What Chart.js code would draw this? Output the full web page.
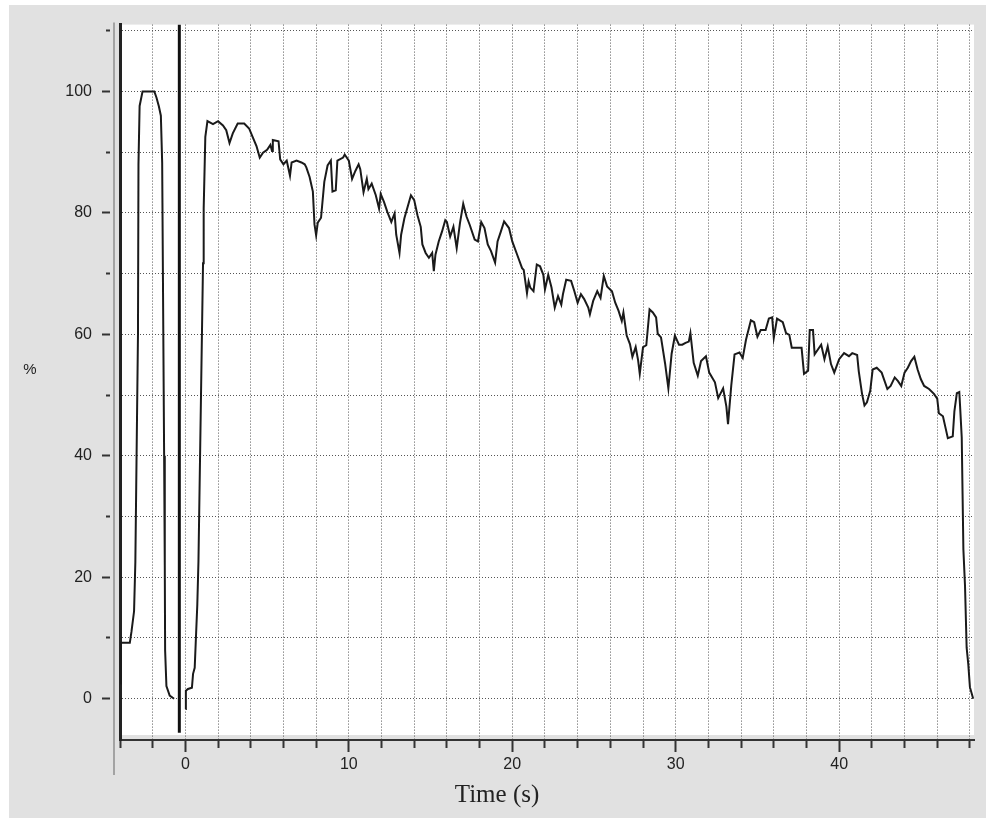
<!DOCTYPE html>
<html>
<head>
<meta charset="utf-8">
<script src="https://cdn.jsdelivr.net/npm/chart.js@4.4.1/dist/chart.umd.min.js"></script>
<style>
  html, body { margin: 0; padding: 0; background: #fff; }
  #wrap { position: absolute; left: 9px; top: 5px; width: 977px; height: 813px; }
</style>
</head>
<body>
<div id="wrap"><canvas id="levelChart" width="977" height="813"></canvas></div>
<script>
// recording: time (s) and level (%), null splits the two runs
const timeS = [
  -3.97, -3.95, -3.4, -3.3, -3.14, -3.06, -2.9, -2.87, -2.8, -2.62, -1.9, -1.77, -1.62, -1.5, -1.42, -1.3, -1.26, -1.24, -1.16, -0.96, -0.69,
  -0.3,
  0.02, 0.03, 0.16, 0.4, 0.47, 0.57, 0.63, 0.73, 0.8, 1.08, 1.12, 1.22, 1.35,
  1.69, 2.0, 2.3, 2.5, 2.7, 2.9, 3.2, 3.6, 3.9, 4.1, 4.35, 4.55, 4.75, 5.0, 5.2, 5.3, 5.35, 5.7, 5.8, 6.0,
  6.2, 6.4, 6.5, 6.8, 7.1, 7.3, 7.4, 7.6, 7.8, 7.9, 8.0, 8.1, 8.3, 8.5, 8.7, 8.9, 9.0, 9.2, 9.3, 9.65, 9.75, 10.0,
  10.2, 10.4, 10.6, 10.7, 10.9, 11.1, 11.2, 11.4, 11.65, 11.85, 11.95, 12.15, 12.35, 12.6, 12.8, 12.9, 13.1, 13.2, 13.4, 13.6,
  13.8, 14.0, 14.2, 14.4, 14.5, 14.7, 14.9, 15.1, 15.2, 15.3, 15.5, 15.7, 15.9, 16.0, 16.2, 16.4, 16.6, 16.8, 17.0, 17.2,
  17.4, 17.7, 17.9, 18.1, 18.3, 18.5, 18.7, 18.95, 19.1, 19.3, 19.5, 19.8, 20.0,
  20.3, 20.6, 20.7, 20.9, 21.0, 21.1, 21.3, 21.5, 21.7, 21.9, 22.0, 22.2, 22.4, 22.6, 22.8, 23.0, 23.1, 23.3, 23.6, 23.8,
  24.0, 24.2, 24.4, 24.65, 24.75, 24.95, 25.2, 25.4, 25.6, 25.8, 26.1, 26.3, 26.5, 26.7, 26.8, 27.0, 27.2, 27.35, 27.55, 27.7,
  27.8, 28.0, 28.2, 28.4, 28.6, 28.8, 28.9, 29.1, 29.35, 29.55, 29.75, 29.95, 30.2,
  30.4, 30.6, 30.8, 30.9, 31.1, 31.35, 31.55, 31.85, 32.05, 32.4, 32.6, 32.9, 33.1, 33.2, 33.4, 33.6, 33.9, 34.1, 34.3, 34.6,
  34.8, 35.0, 35.2, 35.5, 35.7, 35.9, 36.0, 36.2, 36.55, 36.75, 36.95, 37.1, 37.7, 37.85, 38.1, 38.2, 38.4, 38.5, 38.7, 38.9,
  39.1, 39.3, 39.5, 39.7, 40.0,
  40.3, 40.6, 40.8, 41.1, 41.2, 41.4, 41.55, 41.7, 41.9, 42.05, 42.3, 42.6, 42.95, 43.15, 43.4, 43.6, 43.8, 44.0, 44.2, 44.4,
  44.6, 44.8, 45.0, 45.2, 45.5, 45.8, 46.0,
  46.1, 46.35, 46.55, 46.65, 46.95, 47.05, 47.2, 47.35, 47.4, 47.5, 47.55, 47.6, 47.7, 47.8, 47.9, 48.0, 48.2
];
const percent = [
  2.5, 9.2, 9.2, 11, 14.4, 22.6, 60, 88, 97.6, 100, 100, 99, 97.5, 96, 88.3, 40, 22, 8, 2.1, 0.5, 0,
  null,
  -1.7, 1.3, 1.6, 1.8, 4.1, 5.1, 9, 15.5, 22.6, 71.7, 80.7, 92.5, 95.1,
  94.6, 95.1, 94.4, 93.6, 91.5, 93.1, 94.7, 94.7, 93.9, 92.6, 91, 89.1, 89.9, 90.4, 91.2, 90.2, 92, 91.8, 88.8, 88,
  88.6, 86.1, 88.3, 88.6, 88.3, 88, 87.5, 85.9, 83.5, 78.1, 76.3, 78.4, 79.2, 85.1, 87.8, 88.6, 83.5, 83.7, 88.6, 89.1, 89.6, 88.6,
  85.6, 86.9, 88, 87.2, 83.4, 85.6, 83.9, 84.8, 82.9, 80.7, 83.1, 81.8, 80.2, 78.5, 79.9, 76.4, 73.4, 76.4, 79.1, 81,
  82.9, 82.1, 79.6, 77.7, 74.8, 73.4, 72.6, 73.4, 70.4, 73.1, 75.3, 76.9, 78.8, 78.5, 76.1, 77.7, 74.2, 78.3, 81.5, 79.4,
  78, 75.6, 75.3, 78.5, 77.5, 74.8, 73.7, 71.8, 75.3, 76.9, 78.6, 77.5, 75.3,
  73.1, 70.9, 70.6, 66.8, 68.7, 67.7, 67.1, 71.5, 71.2, 69.8, 67.4, 69.8, 67.7, 64.4, 66.3, 64.9, 66.6, 69, 68.8, 67.1,
  65.2, 66.6, 65.8, 64.4, 63.3, 65.5, 67.1, 66, 69.6, 67.9, 67.1, 65.2, 63.9, 62.2, 63.6, 59.8, 58.4, 56.3, 57.9, 55.7,
  53.5, 57.9, 58.2, 64.1, 63.6, 62.8, 60.1, 59.5, 55.2, 51.1, 56.8, 59.8, 58.3,
  58.3, 58.6, 58.8, 60.2, 55.3, 53.2, 55.6, 56.4, 53.7, 52.1, 49.5, 51.1, 48.1, 45.2, 51.6, 56.7, 57, 56.1, 59.1, 62.3,
  62, 59.6, 60.7, 60.7, 62.6, 62.8, 59.4, 62.6, 62, 60.2, 59.9, 57.8, 57.8, 53.5, 54, 60.7, 60.7, 56.7, 57.5, 58.3,
  55.9, 58, 55.1, 53.7, 55.9,
  56.9, 56.4, 56.9, 56.6, 53.9, 50.2, 48.3, 48.8, 50.7, 54.2, 54.5, 53.7, 51, 51.5, 52.9, 52.3, 51.5, 53.7, 54.5, 55.6,
  56.3, 54.2, 52.6, 51.5, 51, 50.2, 49.4,
  47, 46.5, 44.1, 42.9, 43.2, 47.3, 50.3, 50.5, 48.1, 43, 33.8, 24.6, 18.6, 8.4, 5.7, 1.9, 0
];

// vertical marker between the two runs
const markerTime = -0.37;
const markerRange = [-5.6, 111];

const xTicks = [-4, -2, 0, 2, 4, 6, 8, 10, 12, 14, 16, 18, 20, 22, 24, 26, 28, 30, 32, 34, 36, 38, 40, 42, 44, 46, 48];
const xLabels = [0, 10, 20, 30, 40];
const yTicks = [0, 10, 20, 30, 40, 50, 60, 70, 80, 90, 100, 110];
const yLabels = [0, 20, 40, 60, 80, 100];

const tickFont = { family: '"Liberation Sans", Arial, sans-serif', size: 16 };

const panelPlugin = {
  id: 'panel',
  beforeDraw(chart) {
    const { ctx, chartArea: a, width, height } = chart;
    ctx.save();
    ctx.fillStyle = '#e1e1e1';
    ctx.fillRect(0, 0, width, height);
    ctx.fillStyle = '#ffffff';
    ctx.fillRect(a.left, a.top, a.right - a.left, a.bottom - a.top - 5);
    // thin frame left of the y axis
    ctx.strokeStyle = '#a3a3a3';
    ctx.lineWidth = 2;
    ctx.beginPath();
    ctx.moveTo(a.left - 6, a.top - 2);
    ctx.lineTo(a.left - 6, a.bottom + 35);
    ctx.stroke();
    ctx.restore();
  },
  afterDraw(chart) {
    const { ctx } = chart;
    ctx.save();
    ctx.fillStyle = '#222';
    ctx.textAlign = 'center';
    ctx.textBaseline = 'middle';
    ctx.font = '15px "Liberation Sans", Arial, sans-serif';
    ctx.fillText('%', 21, 365);
    ctx.font = '25px "Liberation Serif", "Times New Roman", serif';
    ctx.fillText('Time (s)', 488, 790);
    ctx.restore();
  }
};

const ctx = document.getElementById('levelChart').getContext('2d');
new Chart(ctx, {
  type: 'line',
  data: {
    datasets: [
      {
        label: 'level',
        data: timeS.map((t, i) => ({ x: t, y: percent[i] })),
        borderColor: '#1a1a1a',
        borderWidth: 2,
        pointRadius: 0,
        spanGaps: false,
        tension: 0
      },
      {
        label: 'marker',
        data: markerRange.map(v => ({ x: markerTime, y: v })),
        borderColor: '#111',
        borderWidth: 3,
        pointRadius: 0
      }
    ]
  },
  options: {
    responsive: false,
    animation: false,
    devicePixelRatio: 1,
    layout: { padding: { top: 15, right: 12, left: 0, bottom: 0 } },
    plugins: { legend: { display: false }, tooltip: { enabled: false } },
    scales: {
      x: {
        type: 'linear',
        min: -4,
        max: 48.25,
        afterBuildTicks: s => { s.ticks = xTicks.map(v => ({ value: v })); },
        afterFit: s => { s.height = 78; },
        grid: {
          color: '#555',
          lineWidth: 1,
          tickLength: 12,
          tickColor: '#333',
          tickWidth: 2,
          tickBorderDash: c => (xLabels.includes(c.tick && c.tick.value) ? [] : [7, 100])
        },
        border: { color: '#333', width: 2, dash: [1, 2] },
        ticks: {
          autoSkip: false,
          maxRotation: 0,
          padding: 3,
          color: '#222',
          font: tickFont,
          callback: v => (xLabels.includes(v) ? String(v) : '')
        }
      },
      y: {
        type: 'linear',
        min: -6.8,
        max: 111,
        afterBuildTicks: s => { s.ticks = yTicks.map(v => ({ value: v })); },
        afterFit: s => { s.width = 111; },
        grid: {
          color: '#555',
          lineWidth: 1,
          tickLength: 18,
          tickColor: '#333',
          tickWidth: 2,
          tickBorderDash: c => (yLabels.includes(c.tick && c.tick.value) ? [8, 100] : [0, 4, 4, 100])
        },
        border: { color: '#222', width: 3, dash: [1, 2] },
        ticks: {
          autoSkip: false,
          padding: 10,
          color: '#222',
          font: tickFont,
          callback: v => (yLabels.includes(v) ? String(v) : '')
        }
      }
    }
  },
  plugins: [panelPlugin]
});
</script>
</body>
</html>
